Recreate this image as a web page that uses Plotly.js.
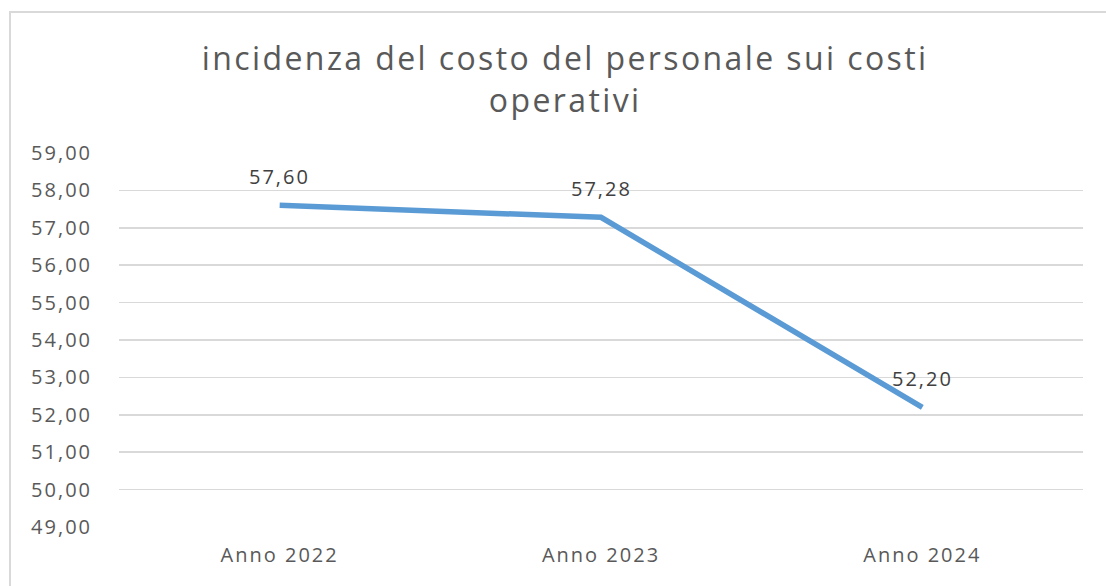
<!DOCTYPE html>
<html>
<head>
<meta charset="utf-8">
<script src="https://cdn.plot.ly/plotly-3.0.1.min.js"></script>
<style>
html,body{margin:0;padding:0;background:#fff;overflow:hidden;}
#chart{position:absolute;left:0;top:0;width:1106px;height:586px;}
#frame{position:absolute;left:9px;top:11px;width:1200px;height:700px;border-left:2px solid #d9d9d9;border-top:2px solid #d9d9d9;pointer-events:none;}
#chart .xtick text, #chart .ytick text, #chart .annotation-text {letter-spacing:2px;}
#chart .gtitle {letter-spacing:2.4px;}
</style>
</head>
<body>
<div id="chart"></div>
<div id="frame"></div>
<script>
const categories = ["Anno 2022", "Anno 2023", "Anno 2024"];
const values = [57.60, 57.28, 52.20];
const valueLabels = ["57,60", "57,28", "52,20"];
const yTickValues = [49, 50, 51, 52, 53, 54, 55, 56, 57, 58, 59];
const yTickLabels = ["49,00","50,00","51,00","52,00","53,00","54,00","55,00","56,00","57,00","58,00","59,00"];
const chartTitle = "incidenza del costo del personale sui costi<br>operativi";

const FONT = "Open Sans, Noto Sans, sans-serif";

const trace = {
  type: "scatter",
  mode: "lines",
  x: categories,
  y: values,
  line: {color: "#5B9BD5", width: 5.5},
  hoverinfo: "skip",
  showlegend: false
};

const annotations = categories.map((c, i) => ({
  x: c, y: values[i], xref: "x", yref: "y",
  text: valueLabels[i], showarrow: false,
  yshift: 29, font: {family: FONT, size: 20, color: "#404040"}
}));

const layout = {
  width: 1106, height: 586,
  paper_bgcolor: "#ffffff", plot_bgcolor: "#ffffff",
  margin: {l: 119, r: 23, t: 153, b: 59},
  title: {
    text: chartTitle,
    font: {family: FONT, size: 32, color: "#595959"},
    x: 0.511, xanchor: "center",
    y: 0.88, yanchor: "top", yref: "container"
  },
  xaxis: {
    type: "category",
    range: [-0.5, 2.5],
    showgrid: false, zeroline: false, showline: false,
    tickfont: {family: FONT, size: 20, color: "#595959"},
    ticks: "outside", ticklen: 10, tickcolor: "rgba(0,0,0,0)",
    fixedrange: true
  },
  yaxis: {
    range: [49, 59],
    tickvals: yTickValues, ticktext: yTickLabels,
    showgrid: true, gridcolor: "#d9d9d9", gridwidth: 1.5,
    zeroline: false, showline: false,
    tickfont: {family: FONT, size: 20, color: "#595959"},
    ticks: "outside", ticklen: 22, tickcolor: "rgba(0,0,0,0)",
    fixedrange: true
  },
  annotations: annotations
};

Plotly.newPlot("chart", [trace], layout, {displayModeBar: false, staticPlot: true});
</script>
</body>
</html>
